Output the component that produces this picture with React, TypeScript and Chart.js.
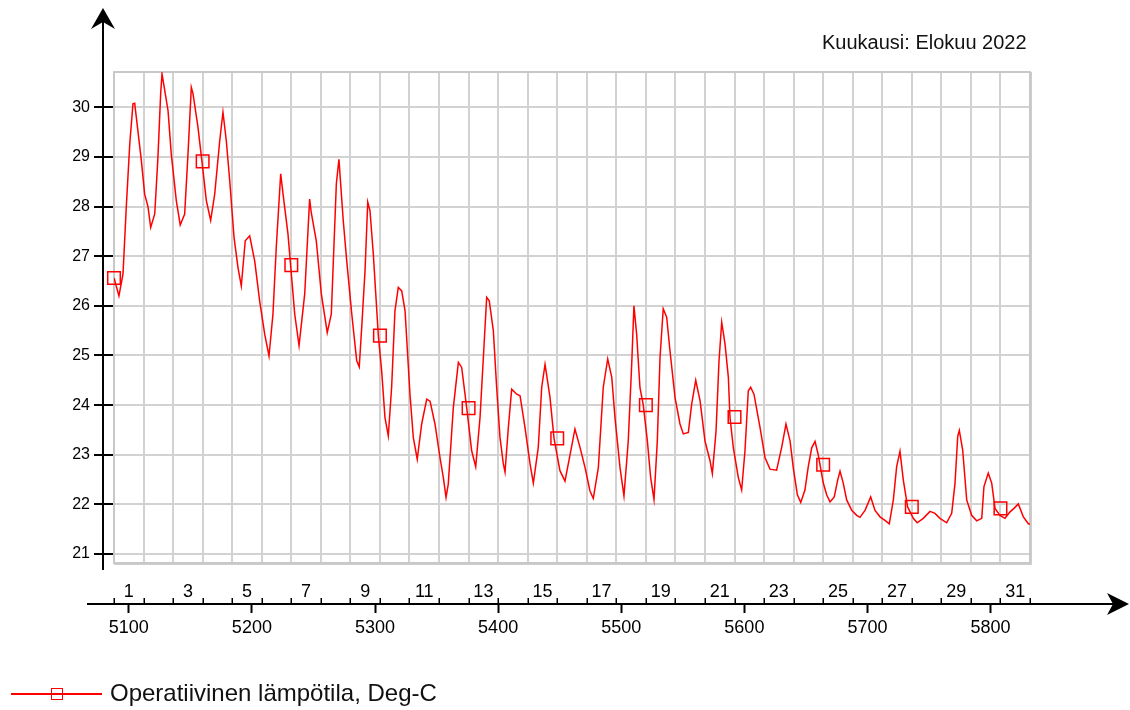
import React, { useEffect, useRef } from "react";
import { Chart, registerables } from "chart.js";

Chart.register(...registerables);

// ---- data ----
const X_MIN = 5088;
const X_MAX = 5832;
const Y_MIN = 20.82;
const Y_MAX = 30.71;

const HOURS = [
  5088, 5092, 5095.3, 5098, 5100.8, 5103.4, 5104.8, 5110.2, 5112.9, 5115.6,
  5117.8, 5121.1, 5123.7, 5125.9, 5127, 5129.2, 5131.9, 5134.5, 5138.6, 5141.8,
  5145.4, 5148.1, 5150.8, 5152.2, 5156.2, 5160.3, 5163, 5166.5, 5169.8, 5173.9,
  5176.5, 5179.2, 5182, 5185.5, 5188.7, 5191.4, 5194.6, 5198.2, 5202.3, 5206.3,
  5210.4, 5213.9, 5217.1, 5219.8, 5223.4, 5225.3, 5229.3, 5234.8, 5238.3, 5242.9,
  5246.9, 5248.2, 5252.3, 5256.4, 5261.2, 5264.5, 5268.6, 5270.7, 5274.2, 5277,
  5281.1, 5285.1, 5287.2, 5289.2, 5291.9, 5294.1, 5295.9, 5298.6, 5302.7, 5305.4,
  5308.1, 5310.8, 5313.5, 5316.2, 5318.9, 5321.7, 5324.4, 5328.4, 5331.1, 5334.3,
  5337.9, 5342, 5344.7, 5348.7, 5352.8, 5355.5, 5357.7, 5359.5, 5363.6, 5367.7,
  5370.4, 5374.5, 5378.5, 5381.8, 5385.3, 5388, 5390.7, 5392.8, 5396.1, 5398.8,
  5401.5, 5404.2, 5405.6, 5408.3, 5411, 5415.1, 5417.8, 5421.8, 5425.9, 5428.6,
  5432.6, 5435.4, 5438.1, 5442.1, 5445.4, 5450.2, 5454.3, 5458.4, 5462.4, 5466.5,
  5470.6, 5474.6, 5477.3, 5481.4, 5485.4, 5489, 5492.3, 5494.9, 5499, 5502.2,
  5505.7, 5508.5, 5510.3, 5512.5, 5515.2, 5517.9, 5521.2, 5523.9, 5526.6, 5529.3,
  5531.5, 5534.1, 5536.9, 5539.6, 5543.7, 5547.7, 5550.4, 5554.5, 5557.2, 5560.5,
  5564, 5568, 5572.1, 5574, 5577, 5579.4, 5581.6, 5584.3, 5587, 5588.3,
  5591, 5595.1, 5597.8, 5600.5, 5603.2, 5605.1, 5607.8, 5612.7, 5616.8, 5620.8,
  5626.2, 5630.3, 5633.8, 5637.1, 5639.7, 5643, 5645.8, 5649.2, 5651.9, 5654.7,
  5657.4, 5660, 5664.1, 5666.9, 5669.6, 5673, 5675.8, 5677.7, 5680.3, 5683.1,
  5687.2, 5691.2, 5693.9, 5698, 5702.6, 5706.1, 5710.2, 5714.2, 5717.7, 5721,
  5723.7, 5726.4, 5729.1, 5732.6, 5737.2, 5740.4, 5745.3, 5750.8, 5754.8, 5758.9,
  5764.3, 5768.4, 5771.1, 5773.3, 5774.6, 5777.3, 5780.6, 5784.6, 5788.7, 5792.8,
  5794.6, 5798.1, 5800.9, 5803.6, 5807.6, 5811.7, 5815.8, 5819, 5822.5, 5826.6,
  5830.7, 5832,
];

const TEMPS = [
  26.56, 26.2, 26.64, 28.0, 29.26, 30.07, 30.08, 28.93, 28.25, 28.0,
  27.58, 27.85, 29.0, 30.27, 30.67, 30.34, 29.93, 29.06, 28.12, 27.63,
  27.85, 29.06, 30.4, 30.27, 29.6, 28.72, 28.12, 27.72, 28.25, 29.33,
  29.9, 29.33, 28.52, 27.38, 26.77, 26.4, 27.31, 27.41, 26.9, 26.1,
  25.43, 24.99, 25.83, 27.18, 28.66, 28.25, 27.45, 25.83, 25.2, 26.24,
  28.15, 27.88, 27.31, 26.24, 25.46, 25.83, 28.46, 28.95, 27.72, 26.91,
  25.84, 24.9, 24.77, 25.57, 26.71, 28.09, 27.92, 27.05, 25.4, 24.69,
  23.75, 23.38, 24.36, 25.9, 26.37, 26.3, 25.9, 24.22, 23.35, 22.91,
  23.62, 24.12, 24.08, 23.62, 22.94, 22.54, 22.14, 22.41, 23.95, 24.86,
  24.76, 23.94, 23.08, 22.76, 23.75, 24.96, 26.17, 26.1, 25.5, 24.36,
  23.35, 22.82, 22.65, 23.55, 24.32, 24.22, 24.19, 23.55, 22.82, 22.43,
  23.15, 24.36, 24.82, 24.16, 23.33, 22.68, 22.47, 23.0, 23.52, 23.15,
  22.74, 22.27, 22.12, 22.74, 24.36, 24.93, 24.56, 23.75, 22.74, 22.17,
  23.28, 24.83, 26.0, 25.43, 24.35, 24.0, 23.28, 22.54, 22.1, 23.28,
  24.96, 25.94, 25.77, 25.09, 24.15, 23.62, 23.42, 23.45, 24.02, 24.5,
  24.09, 23.28, 22.88, 22.62, 23.48, 24.89, 25.67, 25.23, 24.56, 23.76,
  23.15, 22.54, 22.29, 23.08, 24.29, 24.36, 24.22, 23.55, 22.94, 22.71,
  22.69, 23.15, 23.62, 23.28, 22.74, 22.2, 22.04, 22.29, 22.76, 23.14,
  23.27, 23.0, 22.43, 22.19, 22.05, 22.15, 22.49, 22.67, 22.43, 22.09,
  21.88, 21.78, 21.74, 21.88, 22.15, 21.88, 21.75, 21.68, 21.61, 22.09,
  22.76, 23.07, 22.49, 21.95, 21.72, 21.63, 21.72, 21.86, 21.82, 21.72,
  21.63, 21.82, 22.43, 23.37, 23.49, 23.1, 22.09, 21.78, 21.67, 21.72,
  22.36, 22.63, 22.43, 21.92, 21.78, 21.72, 21.85, 21.92, 22.01, 21.75,
  21.61, 21.6,
];

const MARKER_HOURS = [5088, 5160, 5232, 5304, 5376, 5448, 5520, 5592, 5664, 5736, 5808];
const MARKER_TEMPS = [26.56, 28.91, 26.82, 25.4, 23.94, 23.33, 24.0, 23.76, 22.8, 21.95, 21.92];

const DAY_BOUNDARIES = [
  5088, 5112, 5136, 5160, 5184, 5208, 5232, 5256, 5280, 5304, 5328, 5352, 5376, 5400, 5424, 5448,
  5472, 5496, 5520, 5544, 5568, 5592, 5616, 5640, 5664, 5688, 5712, 5736, 5760, 5784, 5808, 5832,
];
const DAY_LABELS = [
  "1", "", "3", "", "5", "", "7", "", "9", "", "11", "", "13", "", "15", "",
  "17", "", "19", "", "21", "", "23", "", "25", "", "27", "", "29", "", "31", "",
];
const HOUR_TICKS = [5100, 5200, 5300, 5400, 5500, 5600, 5700, 5800];
const Y_TICKS = [21, 22, 23, 24, 25, 26, 27, 28, 29, 30];

const TITLE = "Kuukausi: Elokuu 2022";
const SERIES_NAME = "Operatiivinen lämpötila, Deg-C";

const FONT = "'Liberation Sans', Arial, Helvetica, sans-serif";
const RED = "#ff0000";
const GRID = "#d2d2d2";

const axesPlugin = {
  id: "axesPlugin",
  beforeDatasetsDraw(chart: any) {
    const { ctx, chartArea } = chart;
    ctx.save();
    ctx.strokeStyle = "#c8c8c8";
    ctx.lineWidth = 2;
    ctx.strokeRect(chartArea.left, chartArea.top, chartArea.right - chartArea.left, chartArea.bottom - chartArea.top);
    ctx.strokeStyle = "#cdcdcd";
    ctx.lineWidth = 1;
    ctx.beginPath();
    ctx.moveTo(chartArea.right + 1.5, chartArea.top);
    ctx.lineTo(chartArea.right + 1.5, chartArea.bottom + 1.5);
    ctx.lineTo(chartArea.left, chartArea.bottom + 1.5);
    ctx.stroke();
    ctx.restore();
  },
  afterDraw(chart: any) {
    const { ctx } = chart;
    const xs = chart.scales.x;
    const axisY = 604;
    const axisX = 103;
    ctx.save();
    ctx.strokeStyle = "#000";
    ctx.fillStyle = "#000";
    ctx.lineWidth = 2;
    // vertical axis
    ctx.beginPath();
    ctx.moveTo(axisX, 570);
    ctx.lineTo(axisX, 20);
    ctx.stroke();
    ctx.beginPath();
    ctx.moveTo(axisX, 8);
    ctx.lineTo(axisX - 12, 29);
    ctx.lineTo(axisX, 22);
    ctx.lineTo(axisX + 12, 29);
    ctx.closePath();
    ctx.fill();
    // horizontal axis
    ctx.beginPath();
    ctx.moveTo(87, axisY);
    ctx.lineTo(1118, axisY);
    ctx.stroke();
    ctx.beginPath();
    ctx.moveTo(1129, axisY);
    ctx.lineTo(1107, axisY - 11);
    ctx.lineTo(1113, axisY);
    ctx.lineTo(1107, axisY + 11);
    ctx.closePath();
    ctx.fill();
    // day tick marks (upwards)
    ctx.lineWidth = 1.5;
    DAY_BOUNDARIES.forEach((h) => {
      const px = Math.round(xs.getPixelForValue(h)) + 0.25;
      ctx.beginPath();
      ctx.moveTo(px, axisY);
      ctx.lineTo(px, axisY - 6);
      ctx.stroke();
    });
    ctx.restore();
  },
};

export default function App() {
  const canvasRef = useRef<HTMLCanvasElement | null>(null);

  useEffect(() => {
    if (!canvasRef.current) return;
    const lineData = HOURS.map((h, i) => ({ x: h, y: TEMPS[i] }));
    const markerData = MARKER_HOURS.map((h, i) => ({ x: h, y: MARKER_TEMPS[i] }));
    const chart = new Chart(canvasRef.current, {
      type: "line",
      data: {
        datasets: [
          {
            label: SERIES_NAME,
            data: lineData,
            borderColor: RED,
            borderWidth: 1.5,
            pointRadius: 0,
            tension: 0,
            fill: false,
            xAxisID: "x",
            yAxisID: "y",
          },
          {
            label: SERIES_NAME + " markers",
            data: markerData,
            showLine: false,
            borderColor: RED,
            borderWidth: 1.5,
            backgroundColor: "rgba(0,0,0,0)",
            pointStyle: "rect",
            pointRadius: 8.9,
            clip: false,
            xAxisID: "x",
            yAxisID: "y",
          },
        ],
      },
      options: {
        responsive: false,
        animation: false,
        layout: { padding: { top: 72, left: 0, right: 100, bottom: 66 } },
        plugins: {
          legend: { display: false },
          tooltip: { enabled: false },
          title: { display: false },
        },
        scales: {
          x: {
            type: "linear",
            position: "bottom",
            min: X_MIN,
            max: X_MAX,
            weight: 0,
            afterBuildTicks: (s: any) => {
              s.ticks = DAY_BOUNDARIES.map((v) => ({ value: v }));
            },
            ticks: { display: false },
            grid: { color: GRID, lineWidth: 2, drawTicks: false },
            border: { display: false },
            afterFit: (s: any) => {
              s.height = 0;
            },
          },
          xd: {
            type: "linear",
            position: "bottom",
            min: X_MIN,
            max: X_MAX,
            weight: 1,
            afterBuildTicks: (s: any) => {
              s.ticks = DAY_BOUNDARIES.map((v) => ({ value: v }));
            },
            ticks: {
              autoSkip: false,
              maxRotation: 0,
              minRotation: 0,
              labelOffset: 14.8,
              padding: 18,
              color: "#000",
              font: { family: FONT, size: 18 },
              callback: (_v: any, i: number) => DAY_LABELS[i],
            },
            grid: { drawOnChartArea: false, drawTicks: false },
            border: { display: false },
            afterFit: (s: any) => {
              s.height = 41;
            },
          },
          xh: {
            type: "linear",
            position: "bottom",
            min: X_MIN,
            max: X_MAX,
            weight: 2,
            afterBuildTicks: (s: any) => {
              s.ticks = HOUR_TICKS.map((v) => ({ value: v }));
            },
            ticks: {
              autoSkip: false,
              maxRotation: 0,
              minRotation: 0,
              padding: 4,
              color: "#000",
              font: { family: FONT, size: 18 },
              callback: (v: any) => String(v),
            },
            grid: { drawOnChartArea: false, tickLength: 9, tickColor: "#000", tickWidth: 2 },
            border: { display: false },
            afterFit: (s: any) => {
              s.height = 40;
            },
          },
          y: {
            type: "linear",
            position: "left",
            min: Y_MIN,
            max: Y_MAX,
            afterBuildTicks: (s: any) => {
              s.ticks = Y_TICKS.map((v) => ({ value: v }));
            },
            ticks: {
              padding: 4,
              color: "#000",
              font: { family: FONT, size: 16 },
              callback: (v: any) => String(v),
            },
            grid: { color: GRID, lineWidth: 2, tickColor: "#000", tickLength: 20, tickWidth: 2 },
            border: { display: false },
            afterFit: (s: any) => {
              s.width = 114;
            },
          },
        },
      },
      plugins: [axesPlugin],
    } as any);
    return () => chart.destroy();
  }, []);

  return (
    <div
      style={{
        position: "fixed",
        left: 0,
        top: 0,
        width: 1130,
        height: 710,
        background: "#fff",
        fontFamily: FONT,
        overflow: "hidden",
      }}
    >
      <canvas ref={canvasRef} width={1130} height={710} style={{ display: "block", position: "absolute", left: 0, top: 0 }} />
      <div
        style={{
          position: "absolute",
          left: 822,
          top: 30,
          fontSize: 20,
          lineHeight: "24px",
          color: "#111",
          whiteSpace: "nowrap",
        }}
      >
        {TITLE}
      </div>
      <div style={{ position: "absolute", left: 11, top: 693, width: 91, height: 1.5, background: RED }} />
      <div
        style={{
          position: "absolute",
          left: 51,
          top: 688,
          width: 12,
          height: 12,
          border: `1.5px solid ${RED}`,
          boxSizing: "border-box",
        }}
      />
      <div
        style={{
          position: "absolute",
          left: 110,
          top: 679,
          fontSize: 24,
          lineHeight: "28px",
          color: "#111",
          whiteSpace: "nowrap",
        }}
      >
        {SERIES_NAME}
      </div>
    </div>
  );
}
